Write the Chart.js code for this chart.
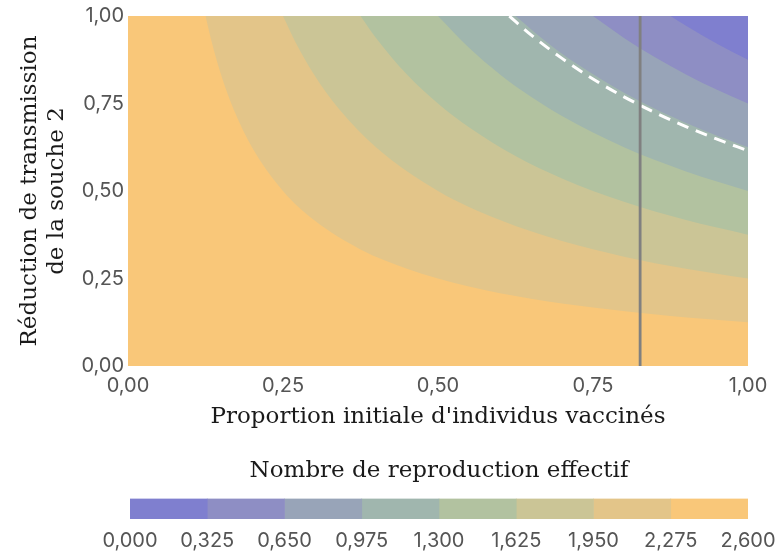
<!DOCTYPE html>
<html>
<head>
<meta charset="utf-8">
<script src="https://cdn.jsdelivr.net/npm/chart.js@4.4.1/dist/chart.umd.min.js"></script>
<style>
  body { margin: 0; background: #fff; }
  #wrap { position: relative; width: 777px; height: 559px; }
  #main { position: absolute; left: 0; top: 0; }
  #bar { position: absolute; left: 0; top: 448px; }
</style>
</head>
<body>
<div id="wrap">
  <canvas id="main" width="777" height="448"></canvas>
  <canvas id="bar" width="777" height="111"></canvas>
</div>
<script>
// niveaux du nombre de reproduction effectif (limites des bandes)
const levels = [0, 0.325, 0.65, 0.975, 1.3, 1.625, 1.95, 2.275, 2.6];
const bandColors = ['#7f7fcf', '#8e8ec4', '#98a4b8', '#a0b6ae', '#b2c2a0', '#cbc596', '#e3c589', '#f9c779'];

// contours : [proportion vaccinée, réduction de transmission]
const contour2275 = [[0.125, 1], [0.135, 0.926], [0.15, 0.833], [0.17, 0.735], [0.2, 0.625], [0.25, 0.5], [0.3, 0.417], [0.375, 0.333], [0.45, 0.278], [0.55, 0.227], [0.65, 0.192], [0.75, 0.167], [0.875, 0.143], [1, 0.125]];
const contour1950 = [[0.25, 1], [0.27, 0.926], [0.3, 0.833], [0.34, 0.735], [0.4, 0.625], [0.5, 0.5], [0.6, 0.417], [0.7, 0.357], [0.8, 0.3125], [0.9, 0.278], [1, 0.25]];
const contour1625 = [[0.375, 1], [0.4, 0.9375], [0.45, 0.833], [0.5, 0.75], [0.55, 0.682], [0.625, 0.6], [0.7, 0.536], [0.8, 0.469], [0.9, 0.417], [1, 0.375]];
const contour1300 = [[0.5, 1], [0.55, 0.909], [0.6, 0.833], [0.65, 0.769], [0.7, 0.714], [0.8, 0.625], [0.9, 0.556], [1, 0.5]];
const contour0975 = [[0.625, 1], [0.675, 0.926], [0.725, 0.862], [0.8, 0.781], [0.875, 0.714], [0.95, 0.658], [1, 0.625]];
const contour0650 = [[0.75, 1], [0.8, 0.9375], [0.85, 0.882], [0.9, 0.833], [0.95, 0.789], [1, 0.75]];
const contour0325 = [[0.875, 1], [0.9, 0.972], [0.95, 0.921], [1, 0.875]];
// Reff = 1 (ligne pointillée blanche)
const contourSeuil = [[0.615, 1], [0.65, 0.946], [0.7, 0.879], [0.75, 0.82], [0.8, 0.769], [0.85, 0.724], [0.9, 0.684], [0.95, 0.648], [1, 0.615]];
// proportion vaccinée actuelle (ligne verticale grise)
const vaccinActuel = 0.826;

const xTicks = [0, 0.25, 0.5, 0.75, 1];
const yTicks = [0, 0.25, 0.5, 0.75, 1];

const fmt = (v, d) => v.toFixed(d).replace('.', ',');
const toPts = arr => arr.map(p => ({ x: p[0], y: p[1] }));

// fond orange = bande la plus haute
const bgPlugin = {
    id: 'bg',
    beforeDatasetsDraw(chart) {
        const a = chart.chartArea;
        chart.ctx.save();
        chart.ctx.fillStyle = bandColors[7];
        chart.ctx.fillRect(a.left, a.top, a.right - a.left, a.bottom - a.top);
        chart.ctx.restore();
    }
};

const contours = [contour2275, contour1950, contour1625, contour1300, contour0975, contour0650, contour0325];
const datasets = contours.map((c, i) => ({
    data: toPts(c),
    borderColor: 'rgba(0,0,0,0)',
    borderWidth: 0,
    backgroundColor: bandColors[6 - i],
    fill: 'end',
    pointRadius: 0,
    cubicInterpolationMode: 'monotone',
    order: 20 - i
}));
datasets.push({
    data: toPts(contourSeuil),
    borderColor: '#ffffff',
    borderWidth: 3,
    borderDash: [12, 8],
    fill: false,
    pointRadius: 0,
    cubicInterpolationMode: 'monotone',
    order: 2
});
datasets.push({
    data: [{ x: vaccinActuel, y: 0 }, { x: vaccinActuel, y: 1 }],
    borderColor: '#808080',
    borderWidth: 2.8,
    fill: false,
    pointRadius: 0,
    order: 1
});

const tickFont = { family: 'Inter', size: 20 };
const titleFont = { family: 'DejaVu Serif', size: 23, lineHeight: 1.18 };

new Chart(document.getElementById('main'), {
    type: 'line',
    data: { datasets: datasets },
    options: {
        responsive: false,
        animation: false,
        layout: { padding: { top: 16, right: 29, left: 0, bottom: 0 } },
        plugins: { legend: { display: false }, tooltip: { enabled: false } },
        scales: {
            x: {
                type: 'linear', min: 0, max: 1,
                grid: { display: false, drawTicks: false }, border: { display: false },
                afterBuildTicks: s => { s.ticks = xTicks.map(v => ({ value: v })); },
                afterFit: s => { s.height = 82; },
                ticks: { color: '#555555', font: tickFont, padding: 8, maxRotation: 0, callback: v => fmt(v, 2) },
                title: { display: true, text: "Proportion initiale d'individus vaccinés", color: '#1a1a1a', font: titleFont, padding: { top: 0, bottom: 17 } }
            },
            y: {
                type: 'linear', min: 0, max: 1,
                grid: { display: false, drawTicks: false }, border: { display: false },
                afterBuildTicks: s => { s.ticks = yTicks.map(v => ({ value: v })); },
                afterFit: s => { s.width = 128; },
                ticks: { color: '#555555', font: tickFont, padding: 4, callback: v => fmt(v, 2) },
                title: { display: true, text: ['Réduction de transmission', 'de la souche 2'], color: '#1a1a1a', font: titleFont, padding: { top: 16, bottom: 0 } }
            }
        }
    },
    plugins: [bgPlugin]
});

// barre de couleurs
const barSets = bandColors.map((c, i) => ({
    data: [levels[i + 1] - levels[i]],
    backgroundColor: c,
    borderWidth: 0,
    barPercentage: 1,
    categoryPercentage: 1
}));

new Chart(document.getElementById('bar'), {
    type: 'bar',
    data: { labels: [''], datasets: barSets },
    options: {
        indexAxis: 'y',
        responsive: false,
        animation: false,
        layout: { padding: { top: 0, right: 29, left: 130, bottom: 0 } },
        plugins: {
            legend: { display: false }, tooltip: { enabled: false },
            title: { display: true, text: 'Nombre de reproduction effectif', color: '#1a1a1a', font: { family: 'DejaVu Serif', size: 23, weight: 'normal', lineHeight: 1.2 }, padding: { top: 9, bottom: 14 } }
        },
        scales: {
            x: {
                type: 'linear', stacked: true, min: 0, max: 2.6,
                grid: { display: false, drawTicks: false }, border: { display: false },
                afterBuildTicks: s => { s.ticks = levels.map(v => ({ value: v })); },
                afterFit: s => { s.height = 40; s.paddingLeft = 0; s.paddingRight = 0; },
                ticks: { color: '#555555', font: tickFont, padding: 10, maxRotation: 0, autoSkip: false, callback: v => fmt(v, 3) }
            },
            y: { stacked: true, display: false }
        }
    }
});
</script>
</body>
</html>
